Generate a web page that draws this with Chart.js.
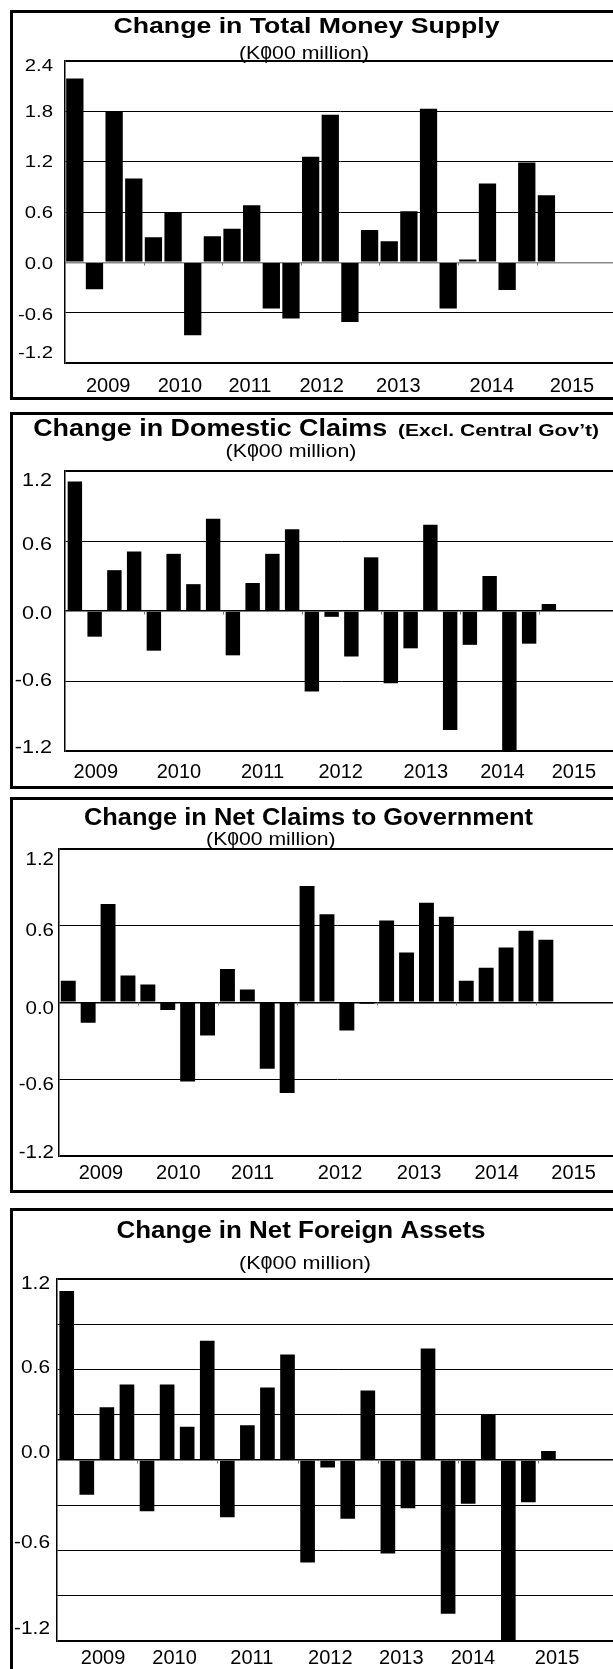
<!DOCTYPE html>
<html><head><meta charset="utf-8">
<script src="https://cdn.jsdelivr.net/npm/chart.js@4.4.0/dist/chart.umd.min.js"></script>
<style>
html,body{margin:0;padding:0;background:#fff;overflow:hidden;width:613px;height:1669px;}
#page{position:relative;width:613px;height:1669px;overflow:hidden;background:#fff;}
#page canvas{position:absolute;left:0;}
.box{position:absolute;left:10px;width:700px;border:3px solid #000;box-sizing:border-box;pointer-events:none;}
</style></head><body><div id="page"></div>
<script>
// ---------- DATA ----------
const quarters = ["Mar-09","Jun-09","Sep-09","Dec-09","Mar-10","Jun-10","Sep-10","Dec-10",
  "Mar-11","Jun-11","Sep-11","Dec-11","Mar-12","Jun-12","Sep-12","Dec-12",
  "Mar-13","Jun-13","Sep-13","Dec-13","Mar-14","Jun-14","Sep-14","Dec-14",
  "Mar-15","Jun-15","Sep-15","Dec-15"];
const yearLabels = ["2009","2010","2011","2012","2013","2014","2015"];

const moneySupply = [2.19, -0.32, 1.80, 1.00, 0.30, 0.60, -0.87, 0.31, 0.40, 0.68, -0.55, -0.67,
  1.26, 1.76, -0.71, 0.385, 0.25, 0.61, 1.83, -0.55, 0.035, 0.94, -0.33, 1.19, 0.80];
const domesticClaims = [1.11, -0.22, 0.35, 0.51, -0.34, 0.49, 0.23, 0.79, -0.38, 0.24, 0.49, 0.70,
  -0.69, -0.05, -0.39, 0.46, -0.62, -0.32, 0.74, -1.02, -0.29, 0.30, -1.25, -0.28, 0.06];
const netClaimsGov = [0.17, -0.16, 0.77, 0.21, 0.14, -0.06, -0.62, -0.26, 0.26, 0.10, -0.52, -0.71,
  0.91, 0.69, -0.22, -0.01, 0.64, 0.39, 0.78, 0.67, 0.17, 0.27, 0.43, 0.56, 0.49];
const netForeignAssets = [1.12, -0.23, 0.35, 0.50, -0.34, 0.50, 0.22, 0.79, -0.38, 0.23, 0.48, 0.70,
  -0.68, -0.05, -0.39, 0.46, -0.62, -0.32, 0.74, -1.02, -0.29, 0.30, -1.25, -0.28, 0.06];

const yTicksA = [-1.2, -0.6, 0, 0.6, 1.2, 1.8, 2.4];
const yTicksB = [-1.2, -0.6, 0, 0.6, 1.2];
const yTicksC = [-1.2, -0.9, -0.6, -0.3, 0, 0.3, 0.6, 0.9, 1.2];
const subtitleText = "(K000 million)";

// ---------- LAYOUT ----------
const FONT = '"Liberation Sans", Arial, Helvetica, sans-serif';
const W = 640;
const layouts = [
  { data: moneySupply, top: 0, height: 405, boxTop: 10, boxH: 390,
    plot: {left: 65, top: 61, bottom: 363, right: 615.2}, barPct: 0.88,
    yMin: -1.2, yMax: 2.4, grid: yTicksA, labels: yTicksA, zeroColor: '#8a8a8a',
    yRight: 53, yFont: 16, ySx: 1.27, yDy: [-11, 2, 1, 0, 0, 0, 4],
    yearPos: [1.70, 5.35, 8.91, 12.56, 16.46, 21.22, 25.30], xBase: 392,
    titles: [{text: "Change in Total Money Supply", font: 'bold 22px ' + FONT, x: 306.5, y: 33, w: 386, align: 'center'}],
    sub: {x: 304, y: 58.5, w: 130, size: 18} },
  { data: domesticClaims, top: 405, height: 388, boxTop: 412, boxH: 377,
    plot: {left: 65, top: 471, bottom: 751, right: 618}, barPct: 0.73,
    yMin: -1.2, yMax: 1.2, grid: yTicksB, labels: yTicksB, zeroColor: '#000',
    yRight: 52, yFont: 18, ySx: 1.2, yDy: [-4, -1, 2, 3, 9],
    yearPos: [1.06, 5.27, 9.50, 13.46, 17.77, 21.65, 25.27], xBase: 777.7,
    titles: [{text: "Change in Domestic Claims", font: 'bold 23px ' + FONT, x: 33.2, y: 436, w: 354, align: 'left'},
             {text: "(Excl. Central Gov\u2019t)", font: 'bold 16px ' + FONT, x: 398, y: 436, w: 201, align: 'left'}],
    sub: {x: 291, y: 457.3, w: 131, size: 18} },
  { data: netClaimsGov, top: 793, height: 410, boxTop: 797, boxH: 396,
    plot: {left: 58.3, top: 849, bottom: 1155.7, right: 615.5}, barPct: 0.75,
    yMin: -1.2, yMax: 1.2, grid: yTicksB, labels: yTicksB, zeroColor: '#000',
    yRight: 54, yFont: 18, ySx: 1.14, yDy: [-4, 5, 5, 4, 10],
    yearPos: [1.64, 5.53, 9.26, 13.66, 17.63, 21.53, 25.39], xBase: 1179,
    titles: [{text: "Change in Net Claims to Government", font: 'bold 23px ' + FONT, x: 308.5, y: 825, w: 449, align: 'center'}],
    sub: {x: 270.8, y: 845, w: 129.4, size: 18} },
  { data: netForeignAssets, top: 1203, height: 466, boxTop: 1208, boxH: 520,
    plot: {left: 56.7, top: 1279, bottom: 1641, right: 618.7}, barPct: 0.73,
    yMin: -1.2, yMax: 1.2, grid: yTicksC, labels: yTicksB, zeroColor: '#000',
    yRight: 50, yFont: 18, ySx: 1.16, yDy: [-13, -9, -8, -3, 4],
    yearPos: [1.81, 5.37, 9.22, 13.13, 16.67, 20.24, 24.43], xBase: 1663.9,
    titles: [{text: "Change in Net Foreign Assets", font: 'bold 23px ' + FONT, x: 301, y: 1238, w: 369, align: 'center'}],
    sub: {x: 305, y: 1268.7, w: 132, size: 18} }
];

function drawFit(ctx, text, x, y, font, targetW, align) {
  ctx.font = font;
  const w = ctx.measureText(text).width;
  const sx = targetW ? targetW / w : 1;
  ctx.save();
  ctx.translate(x, y);
  ctx.scale(sx, 1);
  ctx.textAlign = align;
  ctx.textBaseline = 'alphabetic';
  ctx.fillText(text, 0, 0);
  ctx.restore();
  return sx;
}
function drawScaled(ctx, text, x, y, font, sx, align) {
  ctx.font = font;
  ctx.save();
  ctx.translate(x, y);
  ctx.scale(sx, 1);
  ctx.textAlign = align;
  ctx.textBaseline = 'alphabetic';
  ctx.fillText(text, 0, 0);
  ctx.restore();
}
const near = (a, b) => Math.abs(a - b) < 1e-6;

function makePlugin(L) {
  return {
    id: 'texts',
    afterDatasetsDraw(chart) {
      const ctx = chart.ctx, xs = chart.scales.x, ys = chart.scales.y;
      const zy = Math.round(ys.getPixelForValue(0)) + 0.5;
      ctx.save();
      ctx.strokeStyle = '#777';
      ctx.lineWidth = 1;
      for (let k = 4; k < quarters.length; k += 4) {
        const px = Math.round(xs.getPixelForValue(k - 0.5)) + 0.5;
        ctx.beginPath(); ctx.moveTo(px, zy); ctx.lineTo(px, zy + 3); ctx.stroke();
      }
      ctx.restore();
    },
    afterDraw(chart) {
      const ctx = chart.ctx, T = L.top;
      const xs = chart.scales.x, ys = chart.scales.y;
      ctx.save();
      ctx.fillStyle = '#000';
      L.titles.forEach(t => drawFit(ctx, t.text, t.x, t.y - T, t.font, t.w, t.align));
      // subtitle
      const sf = L.sub.size + 'px ' + FONT;
      const sx = drawFit(ctx, subtitleText, L.sub.x, L.sub.y - T, sf, L.sub.w, 'center');
      ctx.font = sf;
      const pre = ctx.measureText("(K").width, zw = ctx.measureText("0").width;
      const zx = L.sub.x - L.sub.w / 2 + (pre + zw / 2) * sx;
      drawScaled(ctx, "|", zx, L.sub.y - T, sf, 1, 'center');
      // y labels
      const yf = L.yFont + 'px ' + FONT;
      L.labels.forEach((v, i) => {
        const py = ys.getPixelForValue(v) + L.yDy[i] + 0.358 * L.yFont;
        drawScaled(ctx, v.toFixed(1), L.yRight, py, yf, L.ySx, 'right');
      });
      // x labels
      yearLabels.forEach((lab, i) => {
        const px = xs.getPixelForValue(L.yearPos[i]);
        drawScaled(ctx, lab, px, L.xBase - T, '20px ' + FONT, 1, 'center');
      });
      ctx.restore();
    }
  };
}

const page = document.getElementById('page');
layouts.forEach(L => {
  const cv = document.createElement('canvas');
  cv.width = W; cv.height = L.height;
  cv.style.top = L.top + 'px';
  cv.style.width = W + 'px'; cv.style.height = L.height + 'px';
  page.appendChild(cv);
  const box = document.createElement('div');
  box.className = 'box';
  box.style.top = L.boxTop + 'px';
  box.style.height = L.boxH + 'px';
  page.appendChild(box);

  const p = L.plot;
  new Chart(cv.getContext('2d'), {
    type: 'bar',
    data: {
      labels: quarters,
      datasets: [{ data: L.data, backgroundColor: '#000', borderWidth: 0,
        barPercentage: L.barPct, categoryPercentage: 1.0 }]
    },
    options: {
      responsive: false, animation: false, devicePixelRatio: 1,
      layout: { padding: { left: p.left, top: p.top - L.top, right: W - p.right, bottom: L.top + L.height - p.bottom } },
      plugins: { legend: { display: false }, tooltip: { enabled: false }, title: { display: false } },
      scales: {
        x: {
          type: 'category', offset: true,
          grid: { display: false, drawTicks: false },
          border: { display: false },
          ticks: { display: false },
          afterFit: s => { s.height = 0; }
        },
        y: {
          min: L.yMin, max: L.yMax,
          afterBuildTicks: s => { s.ticks = L.grid.map(v => ({ value: v })); },
          grid: {
            drawTicks: false,
            color: c => (c.tick && near(c.tick.value, 0)) ? L.zeroColor : '#000',
            lineWidth: c => {
              if (!c.tick) return 1;
              const v = c.tick.value;
              if (near(v, L.yMin) || near(v, L.yMax)) return 2;
              if (near(v, 0)) return 1.5;
              return 1;
            }
          },
          border: { display: true, color: '#000', width: 1.5 },
          ticks: { display: false },
          afterFit: s => { s.width = 0; }
        }
      }
    },
    plugins: [makePlugin(L)]
  });
});
</script>
</body></html>
